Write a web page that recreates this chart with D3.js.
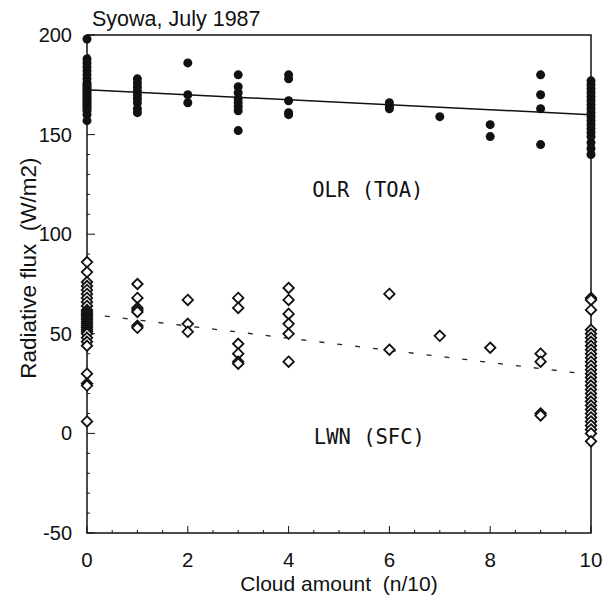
<!DOCTYPE html>
<html>
<head>
<meta charset="utf-8">
<script src="https://cdnjs.cloudflare.com/ajax/libs/d3/7.8.5/d3.min.js"></script>
<style>
	body{margin:0;background:#fff;}
	text{font-family:"Liberation Sans",Arial,sans-serif;fill:#111;}
</style>
</head>
<body>
<svg id="chart"></svg>
<script>

//cloud amount categories (n/10)
var cloudAmount=[0,1,2,3,4,6,7,8,9,10];

//OLR at top of atmosphere (W/m2), one list per cloud amount
var olrValues=[
	[198,188,186,184,182,180,178,176,175,174,173,172,171,170,169,168,167,166,165,164,163,162,160,157],
	[178,176,174,172,170,168,166,163,161],
	[186,170,166],
	[180,174,171,168,166,164,162,152],
	[180,178,167,161,160],
	[166,164,163],
	[159],
	[155,149],
	[180,170,163,145],
	[177,175,173,171,169,167,165,163,161,159,157,155,153,151,149,146,143,140]
];

//net longwave at surface (W/m2)
var lwnValues=[
	[86,81,76,74,72,70,68,66,64,62,61,60,59,58,57,56,55,54,53,52,51,50,48,46,44,30,25,24,6],
	[75,68,63,62,61,54,53],
	[67,55,51],
	[68,63,45,40,36,35],
	[73,67,60,55,50,36],
	[70,42],
	[49],
	[43],
	[40,36,10,9],
	[68,67,62,52,50,48,46,44,42,40,38,36,34,32,30,28,26,24,22,20,18,16,14,12,10,8,6,4,2,0,-4]
];

//regression lines [intercept, slope]
var olrFit=[172.5,-1.25];
var lwnFit=[60,-3.05];

//tick labels
var xTicks=[0,2,4,6,8,10];
var yTicks=[-50,0,50,100,150,200];

var width=603, height=595;
var marginLeft=87, marginRight=12, marginTop=35, marginBottom=62;

var svg=d3.select("#chart")
	.attr("width",width)
	.attr("height",height);

//Define Scales
var xScale=d3.scaleLinear()
	.domain([0,10])
	.range([marginLeft,width-marginRight]);

var yScale=d3.scaleLinear()
	.domain([-50,200])
	.range([height-marginBottom,marginTop]);

//flatten data
var olrPoints=[], lwnPoints=[];
cloudAmount.forEach(function(c,i){
	olrValues[i].forEach(function(v){olrPoints.push({x:c,y:v});});
	lwnValues[i].forEach(function(v){lwnPoints.push({x:c,y:v});});
});

//frame
svg.append("rect")
	.attr("x",xScale(0))
	.attr("y",yScale(200))
	.attr("width",xScale(10)-xScale(0))
	.attr("height",yScale(-50)-yScale(200))
	.style("fill","none")
	.style("stroke","#111")
	.style("stroke-width","1.5px");

//y ticks (minor every 10, major every 50)
svg.selectAll("line.ytick")
	.data(d3.range(-50,201,10))
	.enter()
	.append("line")
	.attr("class","ytick")
	.attr("x1",xScale(0))
	.attr("x2",function(d){return xScale(0)+(d%50==0?8:3);})
	.attr("y1",function(d){return yScale(d);})
	.attr("y2",function(d){return yScale(d);})
	.style("stroke","#111")
	.style("stroke-width","1px");

//x ticks (minor every 0.5, major every 2)
svg.selectAll("line.xtick")
	.data(d3.range(0,10.01,0.5))
	.enter()
	.append("line")
	.attr("class","xtick")
	.attr("x1",function(d){return xScale(d);})
	.attr("x2",function(d){return xScale(d);})
	.attr("y1",yScale(-50))
	.attr("y2",function(d){return yScale(-50)-(d%2==0?7:3);})
	.style("stroke","#111")
	.style("stroke-width","1px");

//tick labels
svg.selectAll("text.ylab")
	.data(yTicks)
	.enter()
	.append("text")
	.attr("class","ylab")
	.attr("x",xScale(0)-15)
	.attr("y",function(d){return yScale(d);})
	.attr("dy",".35em")
	.attr("text-anchor","end")
	.style("font-size","20px")
	.text(function(d){return d;});

svg.selectAll("text.xlab")
	.data(xTicks)
	.enter()
	.append("text")
	.attr("class","xlab")
	.attr("x",function(d){return xScale(d);})
	.attr("y",yScale(-50)+34)
	.attr("text-anchor","middle")
	.style("font-size","20.5px")
	.text(function(d){return d;});

//axis titles
svg.append("text")
	.attr("x",(xScale(0)+xScale(10))/2)
	.attr("y",height-4)
	.attr("text-anchor","middle")
	.style("font-size","21px")
	.style("white-space","pre")
	.text("Cloud amount  (n/10)");

svg.append("text")
	.attr("transform","translate(36,"+yScale(83)+") rotate(-90)")
	.attr("text-anchor","middle")
	.style("font-size","22.5px")
	.style("white-space","pre")
	.text("Radiative flux  (W/m2)");

svg.append("text")
	.attr("x",xScale(0)+5)
	.attr("y",26)
	.attr("text-anchor","start")
	.style("font-size","21.5px")
	.text("Syowa, July 1987");

//series labels
svg.append("text")
	.attr("x",xScale(4.47))
	.attr("y",yScale(118.5))
	.style("font","20.5px 'DejaVu Sans Mono',monospace")
	.text("OLR (TOA)");

svg.append("text")
	.attr("x",xScale(4.5))
	.attr("y",yScale(-5.5))
	.style("font","20.5px 'DejaVu Sans Mono',monospace")
	.text("LWN (SFC)");

//regression lines
svg.append("line")
	.attr("x1",xScale(0))
	.attr("x2",xScale(10))
	.attr("y1",yScale(olrFit[0]))
	.attr("y2",yScale(olrFit[0]+10*olrFit[1]))
	.style("stroke","#111")
	.style("stroke-width","1.5px");

svg.append("line")
	.attr("x1",xScale(0))
	.attr("x2",xScale(10))
	.attr("y1",yScale(lwnFit[0]))
	.attr("y2",yScale(lwnFit[0]+10*lwnFit[1]))
	.style("stroke","#222")
	.style("stroke-width","1.3px")
	.style("stroke-dasharray","5, 13");

//OLR dots
svg.selectAll("circle.olr")
	.data(olrPoints)
	.enter()
	.append("circle")
	.attr("class","olr")
	.attr("cx",function(d){return xScale(d.x);})
	.attr("cy",function(d){return yScale(d.y);})
	.attr("r",4.5)
	.style("fill","#111");

//LWN diamonds
var diamond=d3.symbol().type(d3.symbolDiamond2).size(70);

svg.selectAll("path.lwn")
	.data(lwnPoints)
	.enter()
	.append("path")
	.attr("class","lwn")
	.attr("d",diamond)
	.attr("transform",function(d){
		return "translate("+xScale(d.x)+","+yScale(d.y)+")";
	})
	.style("fill","#fff")
	.style("stroke","#111")
	.style("stroke-width","1.8px");

</script>
</body>
</html>
